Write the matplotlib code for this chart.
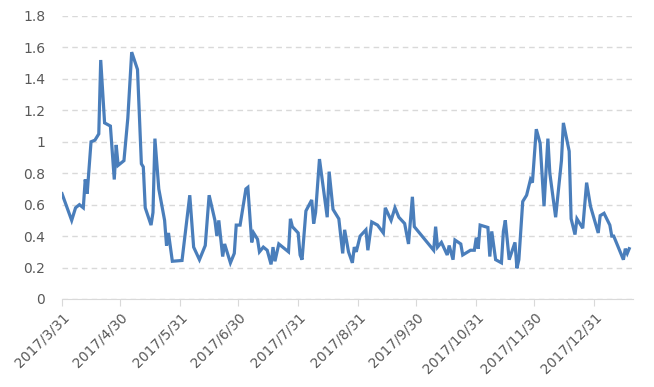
import pandas as pd
import matplotlib.pyplot as plt
import matplotlib.dates as mdates
from matplotlib.ticker import FuncFormatter

# Values
dates = [
    "2017-03-31", "2017-04-05", "2017-04-07", "2017-04-09", "2017-04-11", "2017-04-12",
    "2017-04-13", "2017-04-15", "2017-04-17", "2017-04-19", "2017-04-20", "2017-04-22",
    "2017-04-25", "2017-04-27", "2017-04-28", "2017-04-29", "2017-04-30", "2017-05-02",
    "2017-05-04", "2017-05-06", "2017-05-09", "2017-05-11", "2017-05-12", "2017-05-13",
    "2017-05-16", "2017-05-17", "2017-05-18", "2017-05-20", "2017-05-23", "2017-05-24",
    "2017-05-25", "2017-05-27", "2017-06-01", "2017-06-05", "2017-06-07", "2017-06-10",
    "2017-06-13", "2017-06-15", "2017-06-18", "2017-06-19", "2017-06-20", "2017-06-22",
    "2017-06-23", "2017-06-26", "2017-06-28", "2017-06-29", "2017-07-01", "2017-07-04",
    "2017-07-05", "2017-07-07", "2017-07-08", "2017-07-10", "2017-07-11", "2017-07-13",
    "2017-07-15", "2017-07-17", "2017-07-18", "2017-07-19", "2017-07-21", "2017-07-24",
    "2017-07-26", "2017-07-27", "2017-07-28", "2017-07-31", "2017-08-01", "2017-08-02",
    "2017-08-04", "2017-08-07", "2017-08-08", "2017-08-09", "2017-08-11", "2017-08-15",
    "2017-08-16", "2017-08-18", "2017-08-21", "2017-08-23", "2017-08-24", "2017-08-26",
    "2017-08-28", "2017-08-29", "2017-08-30", "2017-09-01", "2017-09-04", "2017-09-05",
    "2017-09-07", "2017-09-10", "2017-09-13", "2017-09-14", "2017-09-17", "2017-09-19",
    "2017-09-21", "2017-09-24", "2017-09-26", "2017-09-28", "2017-09-29", "2017-10-09",
    "2017-10-10", "2017-10-11", "2017-10-13", "2017-10-16", "2017-10-17", "2017-10-19",
    "2017-10-20", "2017-10-23", "2017-10-24", "2017-10-28", "2017-10-30", "2017-10-31",
    "2017-11-01", "2017-11-02", "2017-11-06", "2017-11-07", "2017-11-08", "2017-11-10",
    "2017-11-13", "2017-11-14", "2017-11-15", "2017-11-17", "2017-11-20", "2017-11-21",
    "2017-11-22", "2017-11-24", "2017-11-26", "2017-11-28", "2017-11-29", "2017-12-01",
    "2017-12-03", "2017-12-05", "2017-12-07", "2017-12-08", "2017-12-11", "2017-12-14",
    "2017-12-15", "2017-12-18", "2017-12-19", "2017-12-21", "2017-12-22", "2017-12-25",
    "2017-12-27", "2017-12-29", "2018-01-02", "2018-01-03", "2018-01-05", "2018-01-08",
    "2018-01-09", "2018-01-10", "2018-01-15", "2018-01-16", "2018-01-17", "2018-01-18",
]
values = [
    0.67, 0.50, 0.58, 0.60, 0.58, 0.76,
    0.67, 1.00, 1.01, 1.05, 1.52, 1.12,
    1.10, 0.76, 0.98, 0.85, 0.86, 0.88,
    1.15, 1.57, 1.46, 0.86, 0.84, 0.58,
    0.47, 0.55, 1.02, 0.70, 0.50, 0.34,
    0.42, 0.24, 0.245, 0.66, 0.33, 0.25,
    0.34, 0.66, 0.50, 0.40, 0.50, 0.27,
    0.35, 0.23, 0.29, 0.47, 0.47, 0.70,
    0.71, 0.36, 0.42, 0.38, 0.30, 0.33,
    0.31, 0.22, 0.33, 0.24, 0.35, 0.32,
    0.30, 0.51, 0.46, 0.42, 0.28, 0.25,
    0.56, 0.63, 0.48, 0.55, 0.89, 0.52,
    0.81, 0.57, 0.51, 0.29, 0.44, 0.30,
    0.23, 0.33, 0.30, 0.40, 0.44, 0.31,
    0.49, 0.47, 0.42, 0.58, 0.50, 0.58,
    0.52, 0.48, 0.35, 0.65, 0.46, 0.31,
    0.46, 0.33, 0.36, 0.28, 0.34, 0.25,
    0.375, 0.35, 0.28, 0.31, 0.31, 0.39,
    0.32, 0.47, 0.455, 0.27, 0.43, 0.25,
    0.23, 0.43, 0.50, 0.25, 0.36, 0.195,
    0.25, 0.62, 0.66, 0.76, 0.74, 1.08,
    0.99, 0.59, 1.02, 0.80, 0.52, 0.88,
    1.12, 0.94, 0.51, 0.41, 0.51, 0.45,
    0.74, 0.59, 0.42, 0.53, 0.545, 0.47,
    0.40, 0.40, 0.25, 0.32, 0.29, 0.32,
]
tick_dates = [
    "2017-03-31", "2017-04-30", "2017-05-31", "2017-06-30", "2017-07-31",
    "2017-08-31", "2017-09-30", "2017-10-31", "2017-11-30", "2017-12-31",
]

df = pd.DataFrame({"Date": pd.to_datetime(dates), "Value": values})
ticks = pd.to_datetime(tick_dates)

fig = plt.figure(figsize=(6.54, 3.87), dpi=100)
ax = fig.add_axes([0.0948, 0.2274, 0.8732, 0.7313])

ax.plot(df["Date"], df["Value"], color="#4a7ebb", linewidth=2.3, solid_joinstyle="miter")

ax.set_ylim(0, 1.8)
ax.set_yticks([i * 0.2 for i in range(10)])
ax.yaxis.set_major_formatter(FuncFormatter(lambda v, p: f"{v:g}"))
ax.grid(axis="y", color="#d9d9d9", linestyle=(0, (4, 3)), linewidth=1)
ax.set_axisbelow(True)

ax.set_xlim(pd.Timestamp("2017-03-31"), pd.Timestamp("2018-01-20"))
ax.set_xticks(ticks)
ax.set_xticklabels([f"{d.year}/{d.month}/{d.day}" for d in ticks],
                   rotation=45, ha="right", rotation_mode="anchor")

for s in ["top", "right", "left"]:
    ax.spines[s].set_visible(False)
ax.spines["bottom"].set_color("#d9d9d9")
ax.tick_params(axis="y", length=0, labelcolor="#595959", labelsize=10, pad=12)
ax.tick_params(axis="x", length=5, color="#d9d9d9", labelcolor="#595959", labelsize=10, pad=3)

plt.savefig("out.png", dpi=100)
